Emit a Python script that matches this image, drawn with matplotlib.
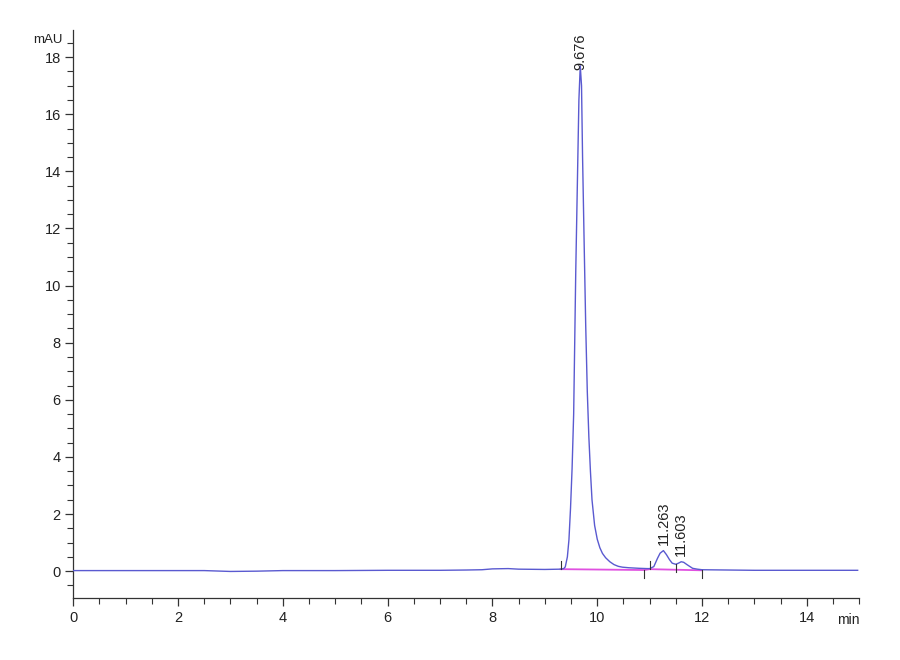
import matplotlib
matplotlib.use("Agg")
import matplotlib.pyplot as plt
from matplotlib.ticker import MultipleLocator

# Chromatogram signal (min, mAU)
time = [0.0, 1.0, 2.0, 2.5, 3.0, 3.5, 4.0, 5.0, 6.0, 7.0, 7.5, 7.8, 8.0, 8.3, 8.5, 9.0,
        9.30, 9.36, 9.39, 9.43, 9.46, 9.49, 9.52, 9.55, 9.57, 9.59, 9.62, 9.65, 9.676,
        9.70, 9.72, 9.75, 9.78, 9.81, 9.84, 9.87, 9.90, 9.95, 10.00, 10.05, 10.10, 10.16,
        10.24, 10.32, 10.40, 10.48, 10.60, 10.80, 10.95,
        11.00, 11.08, 11.15, 11.20, 11.263, 11.32, 11.38, 11.43, 11.50, 11.55, 11.603,
        11.65, 11.72, 11.82, 11.91, 12.0, 12.5, 13.0, 14.0, 14.97]
signal = [0.02, 0.02, 0.02, 0.02, -0.01, 0.0, 0.02, 0.02, 0.03, 0.03, 0.04, 0.05, 0.08, 0.09, 0.07, 0.06,
          0.07, 0.09, 0.15, 0.5, 1.1, 2.2, 3.6, 5.5, 8.0, 10.5, 13.5, 16.5, 17.7,
          17.0, 14.5, 11.5, 8.6, 6.3, 4.7, 3.5, 2.5, 1.6, 1.12, 0.82, 0.62, 0.47,
          0.33, 0.23, 0.17, 0.14, 0.12, 0.10, 0.09,
          0.09, 0.16, 0.45, 0.63, 0.72, 0.58, 0.40, 0.28, 0.24, 0.28, 0.33,
          0.31, 0.22, 0.10, 0.07, 0.05, 0.04, 0.03, 0.03, 0.03]

# Integration baselines
base_time = [9.30, 10.90, 11.00, 12.00]
base_signal = [0.07, 0.04, 0.07, 0.03]

# Integration event markers (time, level, direction)
event_time = [9.30, 10.90, 11.00, 11.50, 12.00]
event_level = [0.07, 0.04, 0.07, 0.24, 0.03]
event_dir = [1, -1, 1, -1, -1]

# Peak labels
peak_rt = [9.676, 11.263, 11.603]
peak_height = [17.55, 0.93, 0.52]
peak_text = ["9.676", "11.263", "11.603"]

plt.rcParams['font.family'] = ['Liberation Sans', 'DejaVu Sans']

fig = plt.figure(figsize=(9, 6.6), dpi=100)
ax = fig.add_axes([0.0814, 0.0935, 0.8733, 0.861])

ax.plot(time, signal, color='#5a5ad0', lw=1.0, zorder=3)
ax.plot(base_time, base_signal, color='#e050e0', lw=1.3, zorder=2)
for t, lv, d in zip(event_time, event_level, event_dir):
    ax.plot([t, t], [lv, lv + d * 0.28], color='#333333', lw=0.8, zorder=4)

for t, h, s in zip(peak_rt, peak_height, peak_text):
    ax.text(t, h, s, rotation=90, ha='center', va='bottom', fontsize=10.5, color='#222222')

ax.set_xlim(0, 15)
ax.set_ylim(-0.95, 18.95)
ax.xaxis.set_major_locator(MultipleLocator(2))
ax.xaxis.set_minor_locator(MultipleLocator(0.5))
ax.yaxis.set_major_locator(MultipleLocator(2))
ax.yaxis.set_minor_locator(MultipleLocator(0.5))
ax.set_xticks(range(0, 15, 2))

for sp in ['top', 'right']:
    ax.spines[sp].set_visible(False)
for sp in ['left', 'bottom']:
    ax.spines[sp].set_color('#333333')
    ax.spines[sp].set_linewidth(0.9)

ax.tick_params(axis='both', which='major', length=6, width=0.9, color='#333333',
               labelsize=10.5, labelcolor='#222222', pad=3)
ax.tick_params(axis='both', which='minor', length=4, width=0.8, color='#333333')

ax.text(-0.2, 18.6, 'mAU', ha='right', va='center', fontsize=9.5, color='#222222')
ax.text(15.0, -1.45, 'min', ha='right', va='top', fontsize=10, color='#222222')

fig.savefig('out.png', dpi=100)
